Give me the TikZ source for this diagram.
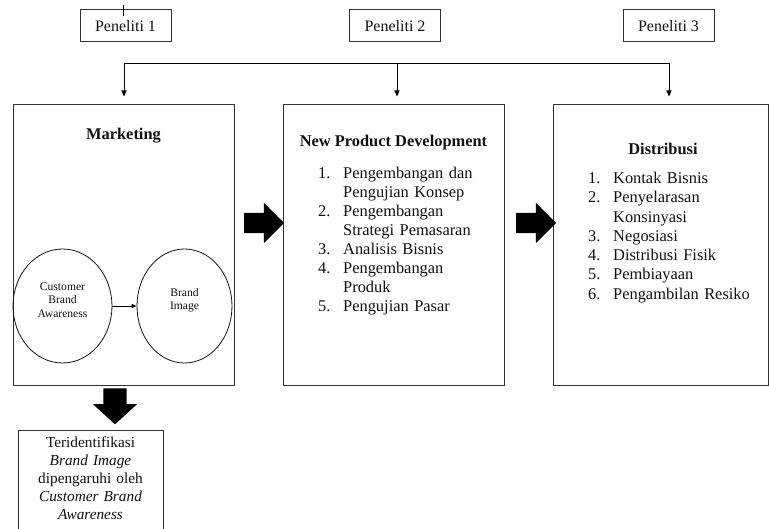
\documentclass[tikz,border=0pt]{standalone}
\usepackage{fontspec}
\setmainfont{Liberation Serif}
\usetikzlibrary{arrows.meta,positioning,shapes.geometric,shapes.arrows}
\definecolor{ink}{HTML}{111111}
\definecolor{frame}{HTML}{333333}
\newcommand{\itm}[2]{\makebox[25pt][l]{#1}#2}

\begin{document}
\begin{tikzpicture}[x=1pt,y=-1pt,
  peneliti/.style={draw=frame,line width=1pt,minimum width=91pt,minimum height=32pt,inner sep=0pt,text=ink,font=\fontsize{16}{19}\selectfont},
  panel/.style={draw=frame,line width=1pt,minimum width=221pt,minimum height=281pt,inner sep=0pt},
  title/.style={text=ink,font=\fontsize{16.4}{19}\selectfont\bfseries,inner sep=0pt},
  steps/.style={anchor=base west,text width=180pt,align=left,inner sep=0pt,text=ink,font=\fontsize{16.4}{19}\selectfont},
  bubble/.style={draw=ink,ellipse,line width=0.8pt,minimum height=114pt,inner sep=0pt},
  bubbletext/.style={align=center,text=ink,font=\fontsize{11.6}{13.5}\selectfont,inner sep=0pt},
  block/.style={single arrow,fill=black,draw=none,inner sep=0pt,text width=0pt,text height=20pt,text depth=0pt,minimum height=40pt,single arrow head extend=10pt,single arrow tip angle=90},
  result/.style={draw=frame,line width=1pt,anchor=base,text width=137pt,align=center,inner xsep=4pt,inner ysep=6pt,text depth=100pt,text=ink,font=\fontsize{15.3}{18}\selectfont},
  arrow/.style={-{Triangle[length=6pt,width=5pt]},line width=0.8pt,draw=black},
  link/.style={line width=0.8pt,draw=black}
]
  \useasboundingbox (0,0) rectangle (769,529);
  \clip (0,0) rectangle (769,529);
  \node[peneliti] (p1) at (125.5,26) {Peneliti 1};
  \node[peneliti] (p2) at (395,26) {Peneliti 2};
  \node[peneliti] (p3) at (668.5,26) {Peneliti 3};
  \draw[link] (123,5) -- (123,16);

  \node[panel] (mkt) at (123.5,245.5) {};
  \node[panel] (npd) at (393.5,245.5) {};
  \node[panel,minimum width=215pt] (dist) at (660.5,245.5) {};

  \coordinate (j1) at (124,63);
  \coordinate (j2) at (397,63);
  \coordinate (j3) at (669,63);
  \draw[link] (j1) -- (j3);
  \draw[arrow,shorten >=8pt] (j1) -- (j1 |- mkt.north);
  \draw[arrow,shorten >=8pt] (j2) -- (j2 |- npd.north);
  \draw[arrow,shorten >=8pt] (j3) -- (j3 |- dist.north);

  \node[title] (mkttitle) at (123.5,136) {Marketing};
  \node[bubble,minimum width=99pt] (cba) at (62.5,306) {};
  \node[bubble,minimum width=95pt] (bi) at (184.5,306) {};
  \node[bubbletext] at ([yshift=6pt]cba.center) {Customer\\Brand\\Awareness};
  \node[bubbletext] at ([yshift=6pt]bi.center) {Brand\\Image};
  \draw[arrow,-{Triangle[length=5pt,width=4pt]}] (cba) -- (bi);

  \node[title] (npdtitle) at (393.5,143) {New Product Development};
  \node[steps] (npdlist) at (318,179) {\itm{1.}{Pengembangan dan}\\\itm{}{Pengujian Konsep}\\\itm{2.}{Pengembangan}\\\itm{}{Strategi Pemasaran}\\\itm{3.}{Analisis Bisnis}\\\itm{4.}{Pengembangan}\\\itm{}{Produk}\\\itm{5.}{Pengujian Pasar}};

  \node[title] (disttitle) at (663,149) {Distribusi};
  \node[steps,font=\fontsize{16.4}{19.3}\selectfont] (distlist) at (588,183.5) {\itm{1.}{Kontak Bisnis}\\\itm{2.}{Penyelarasan}\\\itm{}{Konsinyasi}\\\itm{3.}{Negosiasi}\\\itm{4.}{Distribusi Fisik}\\\itm{5.}{Pembiayaan}\\\itm{6.}{Pengambilan Resiko}};

  \node[block] (fa1) at (259,223) {};
  \node[block] (fa2) at (531,223) {};
  \node[block,rotate=-90,text height=23pt,minimum height=36pt,single arrow head extend=10.5pt,single arrow tip angle=95] (fa3) at (115,401) {};

  \node[result] (hasil) at (90.5,447.5) {Teridentifikasi\\\textit{Brand Image}\\dipengaruhi oleh\\\textit{Customer Brand}\\\textit{Awareness}};
\end{tikzpicture}
\end{document}
